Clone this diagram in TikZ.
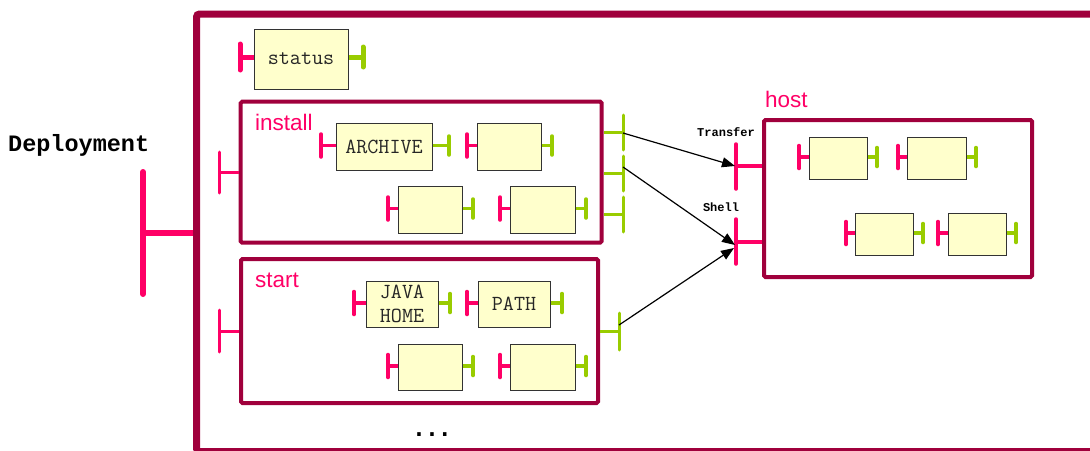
\documentclass[tikz,border=0pt]{standalone}
\usepackage{fontspec}
\setmainfont{Liberation Sans}
\newfontfamily\courierbold[BoldFont={* Bold}]{Liberation Mono}
\newfontfamily\dejamono{DejaVu Sans Mono}
\usetikzlibrary{arrows.meta}

\definecolor{framecol}{HTML}{A0003C}
\definecolor{inpink}{HTML}{FF0066}
\definecolor{outgreen}{HTML}{99CC00}
\definecolor{compfill}{HTML}{FFFFCC}

% component box with an input port (left, pink) and an output port (right, green)
% #1 name, #2 left, #3 top, #4 right, #5 bottom, #6 input bar x, #7 output bar x, #8 text
\newcommand{\comp}[8]{%
  \node[compbox, minimum width={(#4-#2)*1pt}, minimum height={(#5-#3)*1pt}]
    (#1) at ({(#2+#4)/2},{(#3+#5)/2}) {#8};
  \coordinate (#1-in) at (#6,{(#3+#5)/2-1});
  \coordinate (#1-out) at (#7,{(#3+#5)/2-1});
  \draw[instub] (#1-in) -- (#1-in -| #1.west);
  \draw[inbar] ([yshift=-11.5pt]#1-in) -- ([yshift=11.5pt]#1-in);
  \draw[outstub] (#1-out -| #1.east) -- (#1-out);
  \draw[outbar] ([yshift=-9.5pt]#1-out) -- ([yshift=9.5pt]#1-out);
}

\begin{document}
\begin{tikzpicture}[x=1pt,y=-1pt,
  compbox/.style={draw=black!80, fill=compfill, line width=1pt, inner sep=0pt,
    align=center, text=black!85, font=\ttfamily\fontsize{21.5}{24}\selectfont},
  container/.style={draw=framecol, line width=4pt, rounded corners=1.5pt, inner sep=0pt},
  instub/.style={draw=inpink, line width=3.5pt, line cap=butt},
  inbar/.style={draw=inpink, line width=3.5pt, line cap=round},
  outstub/.style={draw=outgreen, line width=3.5pt, line cap=butt},
  outbar/.style={draw=outgreen, line width=3.5pt, line cap=round},
  pinklabel/.style={text=inpink, font=\fontsize{22.5}{24}\selectfont, anchor=base west, inner sep=0pt},
  portlabel/.style={font=\courierbold\bfseries\fontsize{12}{12}\selectfont, inner sep=0pt},
  conn/.style={draw=black, line width=1.2pt, -{Triangle[length=13pt,width=10pt]}},
]
\path[use as bounding box] (0,0) rectangle (1090,450);
\clip (0,0) rectangle (1090,450);

% deployment frame
\node[draw=framecol, line width=7pt, rounded corners=3pt, inner sep=0pt,
      minimum width=920pt, minimum height=437.5pt] (deploy) at (656.5,232.75) {};
\node[font=\courierbold\bfseries\fontsize{23.5}{24}\selectfont, anchor=base west, inner sep=0pt]
  (deplabel) at (8,151) {Deployment};
\coordinate (dep-in) at (143,233);
\draw[draw=inpink, line width=6pt] (dep-in) -- (dep-in -| deploy.west);
\draw[draw=inpink, line width=6pt, line cap=round] (143,172) -- (143,294);

% status component
\node[compbox, minimum width=94pt, minimum height=60pt] (status) at (301,59) {status};
\coordinate (status-in) at (240,57);
\coordinate (status-out) at (363,57);
\draw[draw=inpink, line width=5pt] (status-in) -- (status-in -| status.west);
\draw[draw=inpink, line width=5pt, line cap=round] (240,44) -- (240,70);
\draw[draw=outgreen, line width=5pt] (status-out -| status.east) -- (status-out);
\draw[draw=outgreen, line width=5pt, line cap=round] (363,47) -- (363,67);

% install container
\node[container, minimum width=361pt, minimum height=141pt] (install) at (421.2,172.2) {};
\node[pinklabel] (installlabel) at (255,130) {install};
\coordinate (inst-in) at (219,172);
\draw[instub, line width=3pt] (inst-in) -- (inst-in -| install.west);
\draw[inbar, line width=3pt] (219,152) -- (219,193);
\coordinate (inst-o1) at (623,132);
\coordinate (inst-o2) at (623,173);
\coordinate (inst-o3) at (623,214);
\foreach \c in {inst-o1,inst-o2,inst-o3}{
  \draw[outstub, line width=3pt] (\c -| install.east) -- (\c);
  \draw[outbar, line width=3pt] ([yshift=-18pt]\c) -- ([yshift=17pt]\c);
}
\comp{archive}{336}{123}{432}{170}{321}{449}{ARCHIVE}
\comp{inst2}{477}{123}{541}{170}{467}{552}{}
\comp{inst3}{398}{186}{462}{233}{388}{473}{}
\comp{inst4}{510}{186}{575}{233}{500}{586}{}

% start container
\node[container, minimum width=357pt, minimum height=144pt] (start) at (419.5,331) {};
\node[pinklabel] (startlabel) at (255,287) {start};
\coordinate (start-in) at (219,331);
\draw[instub, line width=3pt] (start-in) -- (start-in -| start.west);
\draw[inbar, line width=3pt] (219,310) -- (219,352);
\coordinate (start-out) at (619,331);
\draw[outstub, line width=3pt] (start-out -| start.east) -- (start-out);
\draw[outbar, line width=3pt] (619,313) -- (619,350);
\comp{javahome}{366}{281}{438}{327}{354}{450}{JAVA\\HOME}
\comp{path}{478}{281}{550}{327}{467}{562}{PATH}
\comp{start3}{398}{344}{462}{390}{388}{473}{}
\comp{start4}{510}{344}{575}{390}{500}{586}{}

\node[font=\dejamono\bfseries\fontsize{21.5}{24}\selectfont, anchor=base, inner sep=0pt]
  (more) at (432,436) {...};

% host container
\node[container, minimum width=268pt, minimum height=157pt] (host) at (898,198.5) {};
\node[pinklabel] (hostlabel) at (765,107) {host};
\coordinate (transfer) at (736,166);
\coordinate (shell) at (736,242);
\draw[instub] (transfer) -- (transfer -| host.west);
\draw[inbar] (736,144) -- (736,189);
\draw[instub] (shell) -- (shell -| host.west);
\draw[inbar] (736,219) -- (736,264);
\node[portlabel] (transferlabel) at (726,132) {Transfer};
\node[portlabel] (shelllabel) at (721,207) {Shell};
\comp{host1}{809}{137}{867}{179}{799}{877}{}
\comp{host2}{907}{137}{966}{179}{898}{976}{}
\comp{host3}{855}{213}{913}{255}{846}{923}{}
\comp{host4}{948}{213}{1006}{255}{938}{1016}{}

% connections between ports
\draw[conn] ([yshift=-1pt]inst-o1) -- ([xshift=-1pt]transfer);
\draw[conn] ([yshift=6pt]inst-o2) -- ([xshift=-1pt,yshift=-3pt]shell);
\draw[conn] ([yshift=6pt]start-out) -- ([xshift=-2pt,yshift=-6pt]shell);
\end{tikzpicture}
\end{document}
